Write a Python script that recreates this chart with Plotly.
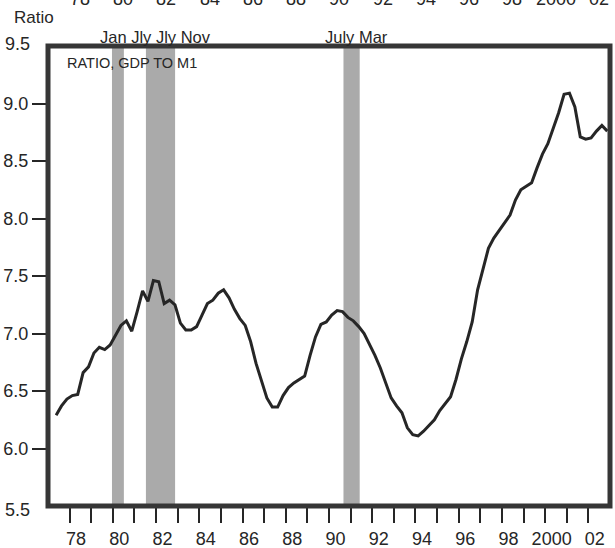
import plotly.graph_objects as go

# quarterly ratio of nominal GDP to M1
years = list(range(1977, 2003))
ratio = [
    None, 6.29, 6.37, 6.43,      # 1977
    6.46, 6.47, 6.66, 6.71,      # 1978
    6.83, 6.88, 6.86, 6.90,      # 1979
    6.99, 7.07, 7.11, 7.02,      # 1980
    7.19, 7.37, 7.28, 7.46,      # 1981
    7.45, 7.26, 7.29, 7.25,      # 1982
    7.09, 7.03, 7.03, 7.06,      # 1983
    7.16, 7.26, 7.29, 7.35,      # 1984
    7.38, 7.31, 7.21, 7.13,      # 1985
    7.07, 6.93, 6.74, 6.58,      # 1986
    6.44, 6.36, 6.36, 6.46,      # 1987
    6.53, 6.57, 6.60, 6.63,      # 1988
    6.81, 6.97, 7.08, 7.10,      # 1989
    7.16, 7.20, 7.19, 7.14,      # 1990
    7.11, 7.06, 7.00, 6.91,      # 1991
    6.81, 6.70, 6.57, 6.44,      # 1992
    6.37, 6.31, 6.18, 6.12,      # 1993
    6.11, 6.15, 6.20, 6.25,      # 1994
    6.33, 6.39, 6.45, 6.60,      # 1995
    6.78, 6.93, 7.10, 7.38,      # 1996
    7.55, 7.74, 7.83, 7.90,      # 1997
    7.97, 8.03, 8.16, 8.25,      # 1998
    8.28, 8.31, 8.44, 8.56,      # 1999
    8.65, 8.78, 8.92, 9.08,      # 2000
    9.09, 8.97, 8.71, 8.69,      # 2001
    8.70, 8.76, 8.81, 8.76,      # 2002
]

# recession shading (decimal years) and the month labels above it
rec_start = [1979.96, 1981.53, 1990.67]
rec_end = [1980.51, 1982.88, 1991.42]
rec_labels = ["Jan Jly Jly Nov", "July Mar"]
rec_label_x = [0.0890, 0.490]

year_labels = ["78", "80", "82", "84", "86", "88", "90", "92", "94", "96", "98", "2000", "02"]
label_years = list(range(1978, 2003, 2))
y_ticks = [6.0, 6.5, 7.0, 7.5, 8.0, 8.5, 9.0]

FONT = "Liberation Sans, Arial, Helvetica, sans-serif"
ink = "#262626"
border = "#363636"
band_grey = "#aaaaaa"

# mid-quarter positions
xq = []
for y in years:
    for q in range(4):
        xq.append(y + 0.125 + 0.25 * q)

fig = go.Figure()
fig.add_trace(go.Scatter(x=xq, y=ratio, mode="lines",
                         line=dict(color=ink, width=3),
                         connectgaps=False, showlegend=False,
                         hoverinfo="skip"))

for s, e in zip(rec_start, rec_end):
    fig.add_shape(type="rect", xref="x", yref="paper", x0=s, x1=e, y0=0, y1=1,
                  fillcolor=band_grey, line=dict(width=0), layer="below")

fig.add_shape(type="rect", xref="paper", yref="paper", x0=0, x1=1, y0=0, y1=1,
              line=dict(color=border, width=5), layer="above")

fig.update_layout(
    width=615, height=548,
    margin=dict(l=48, r=5, t=46, b=42, autoexpand=False),
    paper_bgcolor="white", plot_bgcolor="white",
    font=dict(family=FONT, color=ink, size=17),
    showlegend=False,
)

fig.update_xaxes(
    range=[1977, 2003],
    automargin=False,
    tickmode="array",
    tickvals=[y + 0.3 for y in label_years],
    ticktext=year_labels,
    ticks="outside", ticklen=16, tickcolor="rgba(0,0,0,0)",
    tickfont=dict(size=18, family=FONT, color=ink),
    minor=dict(tickmode="array", tickvals=list(range(1978, 2003)),
               ticks="outside", ticklen=16, tickwidth=1.5, tickcolor=ink),
    showgrid=False, zeroline=False, showline=False,
)
fig.update_yaxes(
    range=[5.5, 9.5],
    automargin=False,
    tickmode="array",
    tickvals=y_ticks,
    ticktext=["%.1f" % v for v in y_ticks],
    ticks="outside", ticklen=15, tickwidth=1.5, tickcolor=ink,
    tickfont=dict(size=18, family=FONT, color=ink),
    showgrid=False, zeroline=False, showline=False,
)

ann = []
ann.append(dict(text="Ratio", xref="paper", yref="paper", x=-0.064, y=1.063,
                xanchor="left", yanchor="middle", showarrow=False,
                font=dict(size=17)))
ann.append(dict(text="9.5", xref="paper", yref="paper", x=-0.028, y=1.004,
                xanchor="right", yanchor="middle", showarrow=False,
                font=dict(size=18)))
ann.append(dict(text="5.5", xref="paper", yref="paper", x=-0.028, y=-0.008,
                xanchor="right", yanchor="middle", showarrow=False,
                font=dict(size=18)))
ann.append(dict(text="RATIO, GDP TO M1", xref="paper", yref="paper", x=0.030, y=0.963,
                xanchor="left", yanchor="middle", showarrow=False,
                font=dict(size=14.5)))
for t, xp in zip(rec_labels, rec_label_x):
    ann.append(dict(text=t, xref="paper", yref="paper", x=xp, y=1.0196,
                    xanchor="left", yanchor="middle", showarrow=False,
                    font=dict(size=16.5)))
# top year labels, cut off by the page edge like the scan
for t, yv in zip(year_labels, label_years):
    ann.append(dict(text=t, xref="x", yref="paper", x=yv + 0.48, y=1.077,
                    xanchor="center", yanchor="bottom", showarrow=False,
                    font=dict(size=18)))
fig.update_layout(annotations=ann)

fig.write_html("out.html", config={"displayModeBar": False},
               post_script="document.body.style.margin='0';")
